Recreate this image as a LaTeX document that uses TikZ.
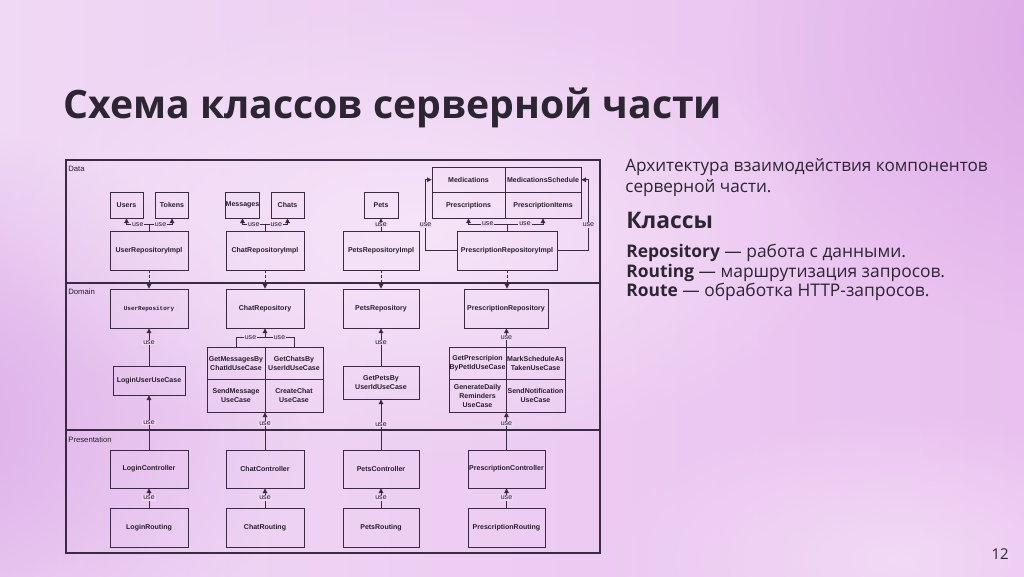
\documentclass[tikz,border=0pt]{standalone}
\usepackage{fontspec}
\setmainfont{Open Sans}
\newfontfamily\diagfont{Liberation Sans}
\newfontfamily\diagmono{Liberation Mono}
\usetikzlibrary{arrows.meta,calc,fadings}

\definecolor{bgleft}{RGB}{240,217,245}
\definecolor{bgmid}{RGB}{246,229,249}
\definecolor{bgright}{RGB}{233,192,239}
\definecolor{bgpurple}{RGB}{214,158,228}
\definecolor{bglight}{RGB}{248,234,250}
\definecolor{inktitle}{RGB}{44,37,50}
\definecolor{umlline}{RGB}{58,42,68}
\definecolor{umltext}{RGB}{38,30,44}
\definecolor{labelbg}{RGB}{240,214,245}

\tikzfading[name=softblob, inner color=transparent!0, outer color=transparent!100]

\tikzset{
	umlbox/.style={draw=umlline, line width=0.5pt, inner sep=0pt, align=center, text=umltext,
		font=\diagfont\bfseries\fontsize{4}{5}\selectfont},
	smallbox/.style={umlbox, minimum width=0.66cm, minimum height=0.52cm},
	widebox/.style={umlbox, minimum width=1.56cm, minimum height=0.78cm},
	cellbox/.style={umlbox, minimum height=0.51cm},
	gridcell/.style={umlbox, minimum height=0.65cm},
	usestem/.style={draw=umlline, line width=0.5pt},
	uselink/.style={usestem, -{Triangle[length=2.6pt,width=2.6pt]}},
	implink/.style={uselink, dash pattern=on 1.6pt off 1.2pt},
	uselbl/.style={font=\diagfont\fontsize{4}{4}\selectfont, text=umltext, fill=labelbg, inner sep=0.5pt},
	layerlbl/.style={font=\diagfont\fontsize{4.4}{5}\selectfont, text=umltext, inner sep=0pt, anchor=west},
	slidetext/.style={inner sep=0pt, anchor=base west, text=inktitle}
}

\begin{document}
\begin{tikzpicture}[x=0.02cm, y=-0.02cm]
	\useasboundingbox (0,0) rectangle (1024,576);
	
	\shade[left color=bgleft, middle color=bgmid, right color=bgright] (0,0) rectangle (1024,576);
	\fill[bgpurple, path fading=softblob, fill opacity=0.85] (-120,420) ellipse (420 and 300);
	\fill[bgpurple, path fading=softblob, fill opacity=0.7] (1110,40) ellipse (380 and 300);
	\fill[bglight, path fading=softblob, fill opacity=0.8] (420,230) ellipse (430 and 230);
	\fill[bglight, path fading=softblob, fill opacity=0.6] (900,560) ellipse (300 and 150);
	
	\node[slidetext, font=\bfseries\fontsize{22.3}{26}\selectfont] (title) at (63,118) {Схема классов серверной части};
	
	\node[slidetext, font=\fontsize{9.75}{12}\selectfont] (intro1) at (625,171) {Архитектура взаимодействия компонентов};
	\node[slidetext, font=\fontsize{9.75}{12}\selectfont] (intro2) at (625,192) {серверной части.};
	\node[slidetext, font=\bfseries\fontsize{13}{15}\selectfont] (classes) at (626,228) {Классы};
	\node[slidetext, font=\fontsize{9.9}{12}\selectfont] (repoline) at (626,257) {\textbf{Repository} — работа с данными.};
	\node[slidetext, font=\fontsize{9.9}{12}\selectfont] (routingline) at (626,277) {\textbf{Routing} — маршрутизация запросов.};
	\node[slidetext, font=\fontsize{9.9}{12}\selectfont] (routeline) at (626,296) {\textbf{Route} — обработка HTTP-запросов.};
	\node[inner sep=0pt, anchor=base east, text=inktitle, font=\fontsize{8.5}{10}\selectfont] (pagenum) at (1009,559) {12};
	
	\draw[umlline, line width=0.6pt] (66,160) rectangle (600,553);
	\draw[umlline, line width=0.6pt] (66,283) -- (600,283);
	\draw[umlline, line width=0.6pt] (66,430) -- (600,430);
	\node[layerlbl] (datalbl) at (68,169) {Data};
	\node[layerlbl] (domainlbl) at (68,292) {Domain};
	\node[layerlbl] (presentlbl) at (68,440) {Presentation};
	
	\node[smallbox] (users) at (126.5,205) {Users};
	\node[smallbox] (tokens) at (172,205) {Tokens};
	\node[widebox] (userimpl) at (149,250.5) {UserRepositoryImpl};
	\node[smallbox] (messages) at (242.5,205) {Messages};
	\node[smallbox] (chats) at (287.5,205) {Chats};
	\node[widebox] (chatimpl) at (265,250.5) {ChatRepositoryImpl};
	\node[smallbox, minimum width=0.68cm] (pets) at (381,205) {Pets};
	\node[widebox, minimum width=1.52cm] (petsimpl) at (381,250.5) {PetsRepositoryImpl};
	\node[cellbox, minimum width=1.46cm] (medications) at (468.5,179.75) {Medications};
	\node[cellbox, minimum width=1.52cm] (medschedule) at (543,179.75) {MedicationsSchedule};
	\node[cellbox, minimum width=1.46cm] (prescriptions) at (468.5,205.25) {Prescriptions};
	\node[cellbox, minimum width=1.52cm] (presitems) at (543,205.25) {PrescriptionItems};
	\node[widebox, minimum width=2cm] (presimpl) at (507,250.5) {PrescriptionRepositoryImpl};
	
	\node[widebox] (userrepo) at (149,308.5) {\diagmono\fontsize{3.4}{4}\selectfont UserRepository};
	\node[widebox] (chatrepo) at (265,308.5) {ChatRepository};
	\node[widebox, minimum width=1.52cm] (petsrepo) at (381,308.5) {PetsRepository};
	\node[widebox, minimum width=1.68cm] (presrepo) at (506,308.5) {PrescriptionRepository};
	\node[umlbox, minimum width=1.44cm, minimum height=0.58cm] (loginuc) at (149,380.5) {LoginUserUseCase};
	\node[gridcell, minimum width=1.16cm] (getmessages) at (236,363.25) {GetMessagesBy\\ChatIdUseCase};
	\node[gridcell, minimum width=1.16cm] (getchats) at (294,363.25) {GetChatsBy\\UserIdUseCase};
	\node[gridcell, minimum width=1.16cm] (sendmessage) at (236,395.75) {SendMessage\\UseCase};
	\node[gridcell, minimum width=1.16cm] (createchat) at (294,395.75) {CreateChat\\UseCase};
	\node[umlbox, minimum width=1.52cm, minimum height=0.66cm] (getpets) at (381,382.5) {GetPetsBy\\UserIdUseCase};
	\node[gridcell, minimum width=1.14cm] (getpres) at (477.5,363.25) {GetPrescripion\\ByPetIdUseCase};
	\node[gridcell, minimum width=1.18cm] (markschedule) at (535.5,363.25) {MarkScheduleAs\\TakenUseCase};
	\node[gridcell, minimum width=1.14cm] (genreminders) at (477.5,395.75) {GenerateDaily\\Reminders\\UseCase};
	\node[gridcell, minimum width=1.18cm] (sendnotif) at (535.5,395.75) {SendNotification\\UseCase};
	
	\node[widebox, minimum height=0.76cm] (loginctrl) at (149,469) {LoginController};
	\node[widebox, minimum height=0.76cm] (chatctrl) at (265,469) {ChatController};
	\node[widebox, minimum height=0.76cm, minimum width=1.52cm] (petsctrl) at (381,469) {PetsController};
	\node[widebox, minimum height=0.76cm, minimum width=1.54cm] (presctrl) at (506.5,469) {PrescriptionController};
	\node[widebox] (loginrouting) at (149,527.5) {LoginRouting};
	\node[widebox] (chatrouting) at (265,527.5) {ChatRouting};
	\node[widebox, minimum width=1.52cm] (petsrouting) at (381,527.5) {PetsRouting};
	\node[widebox, minimum width=1.54cm] (presrouting) at (506.5,527.5) {PrescriptionRouting};
	
	\draw[usestem] (userimpl.north) -- ++(0,-6) coordinate (userfork);
	\draw[uselink] (userfork) -| (users) node[pos=0.25, uselbl] {use};
	\draw[uselink] (userfork) -| (tokens) node[pos=0.25, uselbl] {use};
	\draw[usestem] (chatimpl.north) -- ++(0,-6) coordinate (chatfork);
	\draw[uselink] (chatfork) -| (messages) node[pos=0.25, uselbl] {use};
	\draw[uselink] (chatfork) -| (chats) node[pos=0.25, uselbl] {use};
	\draw[uselink] (petsimpl) -- (pets) node[midway, uselbl] {use};
	\draw[usestem] (presimpl.north) -- ++(0,-6.5) coordinate (presfork);
	\draw[uselink] (presfork) -| (prescriptions) node[pos=0.25, uselbl] {use};
	\draw[uselink] (presfork) -| (presitems) node[pos=0.25, uselbl] {use};
	\draw[uselink] (presimpl.west) -- ++(-31,0) |- (medications) node[pos=0.18, uselbl] {use};
	\draw[uselink] (presimpl.east) -- ++(31,0) |- (medschedule) node[pos=0.18, uselbl] {use};
	
	\draw[implink] (userimpl) -- (userrepo);
	\draw[implink] (chatimpl) -- (chatrepo);
	\draw[implink] (petsimpl) -- (petsrepo);
	\draw[implink] (presimpl.south) -- (presimpl.south |- presrepo.north);
	
	\draw[uselink] (loginuc) -- (userrepo) node[pos=0.62, uselbl] {use};
	\coordinate (chatucfork) at ($(chatrepo.south)+(0,9)$);
	\draw[usestem] (getmessages.north) |- (chatucfork) node[pos=0.75, uselbl] {use};
	\draw[usestem] (getchats.north) |- (chatucfork) node[pos=0.75, uselbl] {use};
	\draw[uselink] (chatucfork) -- (chatrepo.south);
	\draw[uselink] (getpets) -- (petsrepo) node[pos=0.62, uselbl] {use};
	\draw[uselink] (getpres.north east) -- (getpres.north east |- presrepo.south) node[midway, uselbl] {use};
	
	\draw[uselink] (loginctrl) -- (loginuc) node[midway, uselbl] {use};
	\draw[uselink] (chatctrl.north) -- (chatctrl.north |- sendmessage.south) node[pos=0.7, uselbl] {use};
	\draw[uselink] (petsctrl) -- (getpets) node[midway, uselbl] {use};
	\draw[uselink] (genreminders.east |- presctrl.north) -- (genreminders.south east) node[pos=0.7, uselbl] {use};
	
	\draw[uselink] (loginrouting) -- (loginctrl) node[midway, uselbl] {use};
	\draw[uselink] (chatrouting) -- (chatctrl) node[midway, uselbl] {use};
	\draw[uselink] (petsrouting) -- (petsctrl) node[midway, uselbl] {use};
	\draw[uselink] (presrouting) -- (presctrl) node[midway, uselbl] {use};
	
\end{tikzpicture}
\end{document}
